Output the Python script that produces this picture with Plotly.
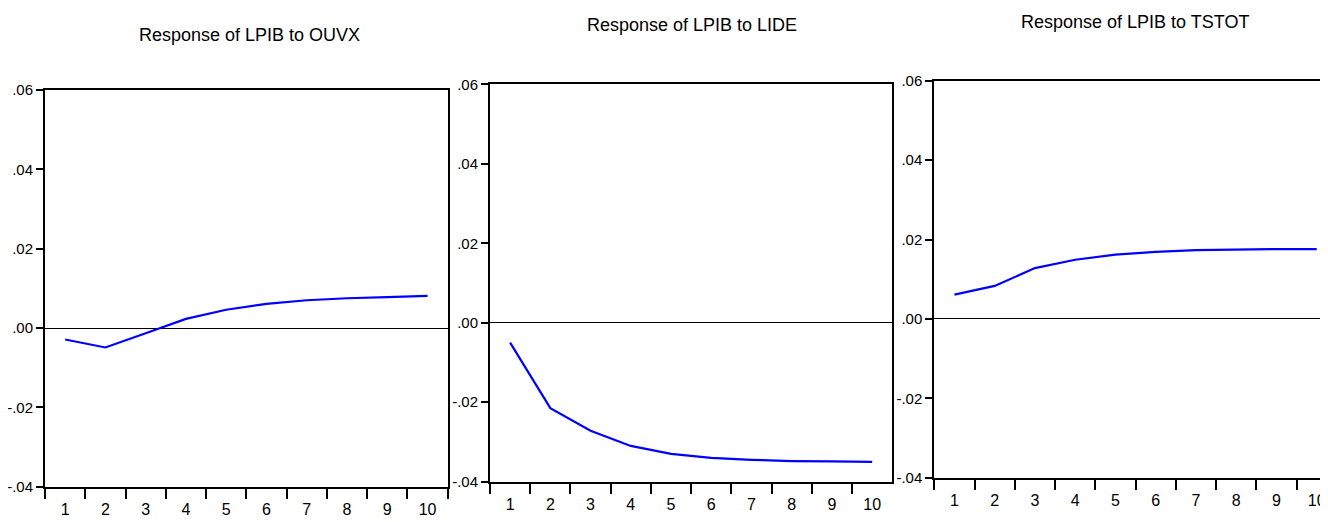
import plotly.graph_objects as go

periods = [str(i) for i in range(1, 11)]
resp_ouvx = [-0.0029, -0.0049, -0.0013, 0.0023, 0.0046, 0.0061, 0.0070, 0.0075, 0.0078, 0.0081]
resp_lide = [-0.0050, -0.0215, -0.0272, -0.0310, -0.0330, -0.0340, -0.0345, -0.0348, -0.0349, -0.0350]
resp_tstot = [0.0061, 0.0083, 0.0128, 0.0149, 0.0162, 0.0169, 0.0173, 0.0175, 0.0176, 0.0176]
titles = ["Response of LPIB to OUVX", "Response of LPIB to LIDE", "Response of LPIB to TSTOT"]
y_ticks = [-0.04, -0.02, 0.0, 0.02, 0.04, 0.06]
y_tick_text = ["-.04", "-.02", ".00", ".02", ".04", ".06"]

OFF = 8  # the page body adds an 8px margin around the figure
W, H = 1328 - OFF, 522 - OFF
FONT = "Liberation Sans Narrow, Arial Narrow, Liberation Sans, Arial"

# panel boxes in page pixels: left, right, top, bottom
boxes = [(45, 447.7, 90, 486.7), (490, 892.3, 84.3, 481.7), (934.3, 1328, 80.7, 477.7)]
xranges = [[-0.5, 9.5], [-0.5, 9.5], [-0.5, 9.28]]
title_pos = [(249, 35), (692, 25), (1135, 22)]
series = [resp_ouvx, resp_lide, resp_tstot]


def px(x):
    return (x - OFF) / W


def py(y):
    return 1 - (y - OFF) / H


fig = go.Figure()
layout = dict(width=W, height=H, margin=dict(l=0, r=0, t=0, b=0, autoexpand=False),
              paper_bgcolor="white", plot_bgcolor="white", showlegend=False,
              font=dict(family=FONT, size=16, color="black"))
annotations = []
for i, (vals, box) in enumerate(zip(series, boxes)):
    n = "" if i == 0 else str(i + 1)
    l, r, t, b = box
    fig.add_trace(go.Scatter(x=periods, y=vals, mode="lines",
                             line=dict(color="#0000FF", width=2.2),
                             xaxis="x" + n, yaxis="y" + n, hoverinfo="skip"))
    layout["xaxis" + n] = dict(domain=[px(l), min(px(r), 1.0)], anchor="y" + n, type="category",
                               range=xranges[i], tickson="boundaries", ticks="outside",
                               ticklen=10, tickwidth=1.5, tickcolor="black",
                               ticklabelstandoff=7,
                               showline=True, linecolor="black", linewidth=2, mirror=True,
                               showgrid=False, zeroline=False, automargin=False,
                               tickfont=dict(family=FONT, size=16, color="black"))
    layout["yaxis" + n] = dict(domain=[py(b), py(t)], anchor="x" + n,
                               range=[-0.04, 0.06], tickvals=y_ticks, ticktext=y_tick_text,
                               ticks="outside", ticklen=7, tickwidth=1.5, tickcolor="black",
                               showline=True, linecolor="black", linewidth=2,
                               mirror=(i < 2), showgrid=False, automargin=False,
                               zeroline=True, zerolinecolor="black", zerolinewidth=1,
                               tickfont=dict(family=FONT, size=15, color="black"))
    annotations.append(dict(text=titles[i], x=px(title_pos[i][0]), y=py(title_pos[i][1]),
                            xref="paper", yref="paper", xanchor="center", yanchor="middle",
                            showarrow=False, font=dict(family=FONT, size=18, color="black")))
layout["annotations"] = annotations
fig.update_layout(**layout)
fig.write_html("out.html")
